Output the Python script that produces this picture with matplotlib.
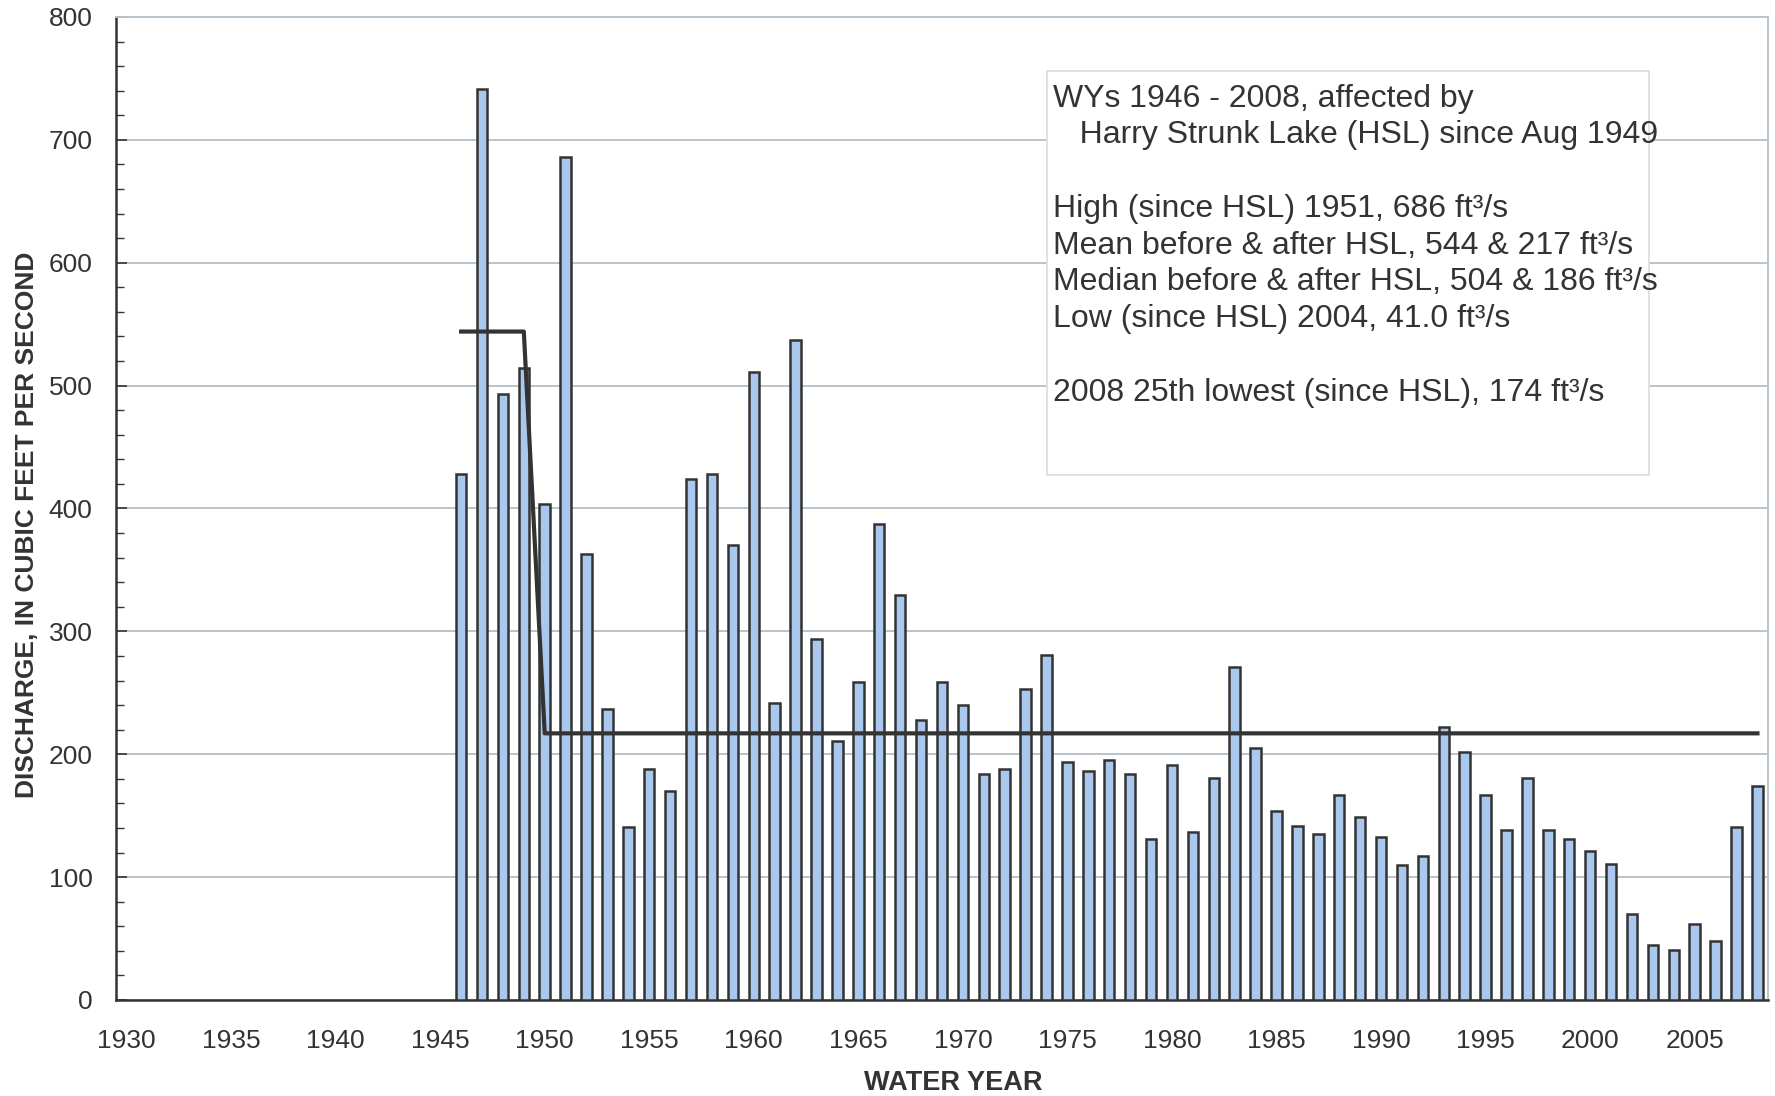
import matplotlib.pyplot as plt
from matplotlib.ticker import MultipleLocator
from matplotlib.patches import Rectangle

# Annual mean discharge, water years 1946 - 2008 (ft3/s)
years = list(range(1946, 2009))
discharge = [428, 741, 493, 514, 404, 686, 363, 237, 141, 188,
             170, 424, 428, 370, 511, 242, 537, 294, 211, 259,
             387, 330, 228, 259, 240, 184, 188, 253, 281, 194,
             186, 195, 184, 131, 191, 137, 181, 271, 205, 154,
             142, 135, 167, 149, 133, 110, 117, 222, 202, 167,
             138, 181, 138, 131, 121, 111, 70, 45, 41, 62,
             48, 141, 174]

# Mean before and after Harry Strunk Lake
mean_years = [1946, 1949, 1950, 2008]
mean_values = [544, 544, 217, 217]

x_ticks = list(range(1930, 2010, 5))

# note lines, with the row each one sits on (blank rows between groups)
note_lines = ["WYs 1946 - 2008, affected by",
              "   Harry Strunk Lake (HSL) since Aug 1949",
              "High (since HSL) 1951, 686 ft\u00b3/s",
              "Mean before & after HSL, 544 & 217 ft\u00b3/s",
              "Median before & after HSL, 504 & 186 ft\u00b3/s",
              "Low (since HSL) 2004, 41.0 ft\u00b3/s",
              "2008 25th lowest (since HSL), 174 ft\u00b3/s"]
note_rows = [0, 1, 3, 4, 5, 6, 8]

plt.rcParams['font.family'] = ['Liberation Sans', 'DejaVu Sans']

fig = plt.figure(figsize=(17.75, 10.96), dpi=100)
ax = fig.add_axes([0.0654, 0.0876, 0.9306, 0.8969])

grid_col = '#b9c4cc'
dark = '#333333'

ax.bar(years, discharge, width=0.5, color='#aac8ee', edgecolor=dark,
       linewidth=1.8, zorder=3)
ax.plot(mean_years, mean_values, color=dark, linewidth=3, zorder=4)

ax.set_xlim(1929.5, 2008.5)
ax.set_ylim(0, 800)
ax.set_xticks(x_ticks)
ax.yaxis.set_major_locator(MultipleLocator(100))
ax.yaxis.set_minor_locator(MultipleLocator(20))
ax.grid(axis='y', color=grid_col, linewidth=1.4, zorder=0)

ax.tick_params(axis='x', length=0, pad=21, labelsize=19, labelcolor=dark)
ax.tick_params(axis='y', which='major', direction='in', length=8,
               width=1.2, color=dark, pad=17, labelsize=19, labelcolor=dark)
ax.tick_params(axis='y', which='minor', direction='in', length=6,
               width=1.0, color=dark)

for side in ['left', 'bottom']:
    ax.spines[side].set_color(dark)
    ax.spines[side].set_linewidth(1.8)
for side in ['top', 'right']:
    ax.spines[side].set_color(grid_col)
    ax.spines[side].set_linewidth(1.4)

ax.set_xlabel('WATER YEAR', fontsize=19.5, fontweight='bold', color=dark,
              labelpad=12)
ax.set_ylabel('DISCHARGE, IN CUBIC FEET PER SECOND', fontsize=19,
              fontweight='bold', color=dark, labelpad=7)
ax.xaxis.label.set_x(0.507)
ax.yaxis.label.set_y(0.483)

# note box
ax.add_patch(Rectangle((0.5636, 0.534), 0.3644, 0.411, transform=ax.transAxes,
                       facecolor='white', edgecolor='#dcdcdc', linewidth=1.2,
                       zorder=5))
for line, row in zip(note_lines, note_rows):
    ax.text(0.567, 0.9169 - 0.0374 * row, line, transform=ax.transAxes,
            fontsize=23, color=dark, va='center', ha='left', zorder=6)

plt.savefig('out.png', dpi=100)
